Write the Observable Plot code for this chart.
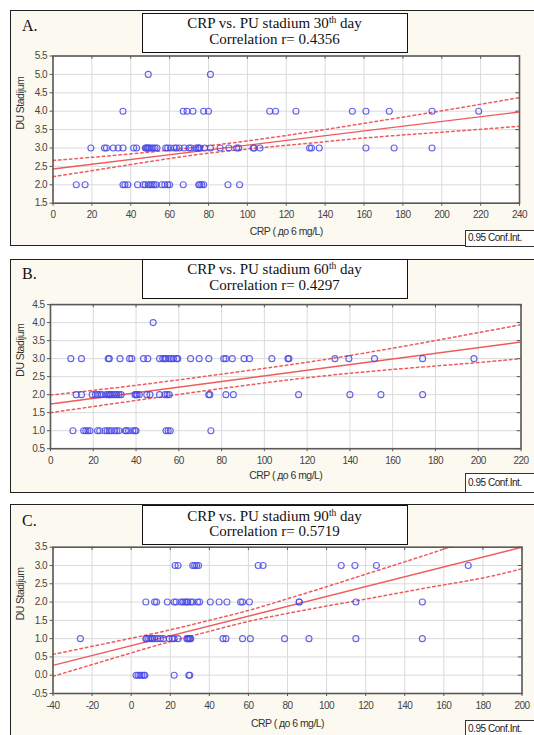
<!DOCTYPE html>
<html><head><meta charset="utf-8">
<script src="https://cdn.jsdelivr.net/npm/d3@7"></script>
<script src="https://cdn.jsdelivr.net/npm/@observablehq/plot@0.6"></script>
<style>
body{margin:0;background:#fff;}
#page{position:relative;width:534px;height:735px;overflow:hidden;background:#fff;}
.panel{position:absolute;left:9.5px;width:540px;border:1.5px solid #222;background:#fcfaf0;box-sizing:border-box;}
.letter{position:absolute;left:22px;font-family:"Liberation Serif","Times New Roman",serif;font-size:16px;line-height:16px;color:#111;}
.tbox{position:absolute;left:141.5px;width:266px;height:40px;border:1.5px solid #111;background:#fff;box-sizing:border-box;font-family:"Liberation Serif","Times New Roman",serif;font-size:15px;line-height:15.5px;text-align:center;color:#111;padding-top:2.8px;}
.tbox sup{font-size:9.5px;vertical-align:5px;line-height:0;}
.conf{position:absolute;left:465px;width:80px;border:1px solid #333;background:#fff;box-sizing:border-box;font-family:"Liberation Sans",Arial,sans-serif;font-size:10px;letter-spacing:-0.45px;color:#222;padding-left:2px;}
.chart{position:absolute;left:0;}
</style></head>
<body><div id="page"></div>
<script>
// ---------- DATA ----------
const xLabel = "CRP ( до 6 mg/L)";
const yLabel = "DU Stadijum";

// Panel A (30th day)
const A_titleDay = "30";
const A_r = "0.4356";
const A_xTicks = [0,20,40,60,80,100,120,140,160,180,200,220,240];
const A_yTicks = [1.5,2.0,2.5,3.0,3.5,4.0,4.5,5.0,5.5];
const A_stage2 = [12,16.5,36,37,38.5,43.5,46.5,47.5,49,50,51,52,53,56,57.5,59,60,67,75,75.5,76.5,77.5,90,96];
const A_stage3 = [19.5,26.5,27.5,31,33.5,36,41.5,43,47.5,48,48.5,49,49.5,50.5,51.5,52.5,53.5,58,59,60.5,62.5,63.5,65,67.5,70,71,73.5,74.5,75,75.5,78,81,86,90.5,94.5,95.5,103,103.5,106.5,132,133,137,161,175.5,195];
const A_stage4 = [36,67,69,72,77.5,80,111.5,114.5,125,154,161,173,195,219];
const A_stage5 = [49,81];
const A_regX = [0,240];
const A_regY = [2.43,3.98];
const A_ciX = [0,40,80,120,160,200,240];
const A_ciUpper = [2.66,2.84,3.06,3.34,3.67,4.01,4.37];
const A_ciLower = [2.22,2.55,2.86,3.07,3.27,3.43,3.59];

// Panel B (60th day)
const B_titleDay = "60";
const B_r = "0.4297";
const B_xTicks = [0,20,40,60,80,100,120,140,160,180,200,220];
const B_yTicks = [0.5,1.0,1.5,2.0,2.5,3.0,3.5,4.0,4.5];
const B_stage1 = [10.5,15.5,16.5,17.5,18.5,22,23,25.5,26.5,27.5,28.5,30,31,32,35,35.5,36.5,38.5,39.5,40,54,55,56,75];
const B_stage2 = [12,14.5,19.5,21,22,23,24,26,27,27.5,28,29,30,31,32,33,39.5,40,40.5,41.5,45,46.5,51,53.5,54.5,55.5,74,74.5,82,85.5,116,140,154.5,174];
const B_stage3 = [9.5,14.5,27,27.5,32.5,37,38,43.5,45.5,51,52.5,53.5,54,55.5,56.5,57.5,59,59.5,65.5,69.5,74,81,82,85,90.5,93,103.5,111,111.5,133,139.5,151.5,174,198];
const B_stage4 = [48];
const B_regX = [0,220];
const B_regY = [1.74,3.46];
const B_ciX = [0,40,80,120,160,200,220];
const B_ciUpper = [1.99,2.26,2.57,2.90,3.29,3.72,3.94];
const B_ciLower = [1.50,1.84,2.17,2.47,2.70,2.89,3.00];

// Panel C (90th day)
const C_titleDay = "90";
const C_r = "0.5719";
const C_xTicks = [-40,-20,0,20,40,60,80,100,120,140,160,180,200];
const C_yTicks = [-0.5,0.0,0.5,1.0,1.5,2.0,2.5,3.0,3.5];
const C_stage0 = [2.5,3.5,4.5,5.5,6.5,7,22,29.5,30];
const C_stage1 = [-26,7.5,8,9,10,11,12,13.5,15,16.5,19.5,21,22,24,28.5,29,29.5,30,30.5,47,48.5,57,61,78.5,91,115,149];
const C_stage2 = [7.5,12,13,18.5,22,23,25.5,26.5,27.5,28.5,29,30.5,31.5,34,35,40.5,45,49,56,57,60.5,86,86,115,149];
const C_stage3 = [22.5,24,31.5,32.5,33.5,34.5,65,67.5,107.5,114.5,125.5,172.5];
const C_regX = [-40,200];
const C_regY = [0.27,3.50];
const C_ciX = [-40,-20,0,20,40,60,80,100,120,140,160,180,200];
const C_ciUpper = [0.57,0.79,1.01,1.24,1.50,1.77,2.09,2.42,2.76,3.10,3.45,3.80,4.09];
const C_ciLower = [-0.03,0.29,0.61,0.92,1.20,1.47,1.69,1.89,2.08,2.28,2.47,2.66,2.91];

// ---------- LAYOUT ----------
const page = document.getElementById("page");
const axisFont = '"Liberation Sans",Arial,sans-serif';
const RED = "#f05a5a", BLUE = "#4848e8";

function el(cls, css, html) {
  const d = document.createElement("div");
  d.className = cls; Object.assign(d.style, css); if (html != null) d.innerHTML = html;
  page.appendChild(d); return d;
}

function panel(p) {
  el("panel", {top: p.top + "px", height: p.ph + "px"});
  const pts = p.rows.flatMap(([stage, xs]) => xs.map(x => ({x, y: stage})));
  const reg = p.regX.map((x, i) => ({x, y: p.regY[i]}));
  const up = p.ciX.map((x, i) => ({x, y: p.ciUp[i]}));
  const lo = p.ciX.map((x, i) => ({x, y: p.ciLo[i]}));
  const yTop = p.yTicks[p.yTicks.length - 1], yBot = p.yTicks[0];
  const xRight = p.xTicks[p.xTicks.length - 1];
  const ySpan = yTop - yBot, xSpan = xRight - p.xTicks[0];
  const chart = Plot.plot({
    width: 534, height: p.h,
    marginTop: p.mt, marginBottom: p.mb, marginLeft: p.ml, marginRight: p.mr,
    x: {domain: [p.xTicks[0], xRight]},
    y: {domain: [yBot, yTop]},
    style: {background: "transparent", fontFamily: axisFont, fontSize: "10px", letterSpacing: "-0.55px", color: "#444", overflow: "visible"},
    marks: [
      Plot.frame({fill: "white", stroke: null}),
      Plot.gridX(p.xTicks, {stroke: "#dadada", strokeOpacity: 1}),
      Plot.gridY(p.yTicks, {stroke: "#dadada", strokeOpacity: 1}),
      Plot.axisX(p.xTicks, {tickSize: 3, tickPadding: 5, tickFormat: d => String(d), label: null, stroke: "#555"}),
      Plot.axisY(p.yTicks, {tickSize: 3, tickPadding: 3, tickFormat: d => d.toFixed(1), label: null, stroke: "#555"}),
      Plot.ruleX(p.xTicks, {y1: yTop, y2: yTop - ySpan * 0.022, stroke: "#555"}),
      Plot.ruleY(p.yTicks, {x1: xRight, x2: xRight - xSpan * 0.008, stroke: "#555"}),
      Plot.line(up, {x: "x", y: "y", stroke: RED, strokeWidth: 1.5, strokeDasharray: "2.5,3", curve: "natural", clip: true}),
      Plot.line(lo, {x: "x", y: "y", stroke: RED, strokeWidth: 1.5, strokeDasharray: "2.5,3", curve: "natural", clip: true}),
      Plot.line(reg, {x: "x", y: "y", stroke: RED, strokeWidth: 1.4, clip: true}),
      Plot.dot(pts, {x: "x", y: "y", r: 3, stroke: BLUE, strokeWidth: 1.1, strokeOpacity: 0.85, fill: "none"}),
      Plot.frame({stroke: "#5a5a5a", strokeWidth: 1.6}),
      Plot.text([xLabel], {text: d => d, frameAnchor: "bottom", dy: p.xlOff, fontSize: 10.5, fill: "#333"}),
      Plot.text([yLabel], {text: d => d, frameAnchor: "left", dx: -p.ylOff, rotate: -90, fontSize: 10.5, fill: "#333"})
    ]
  });
  chart.classList.add("chart");
  chart.style.top = p.top + "px";
  page.appendChild(chart);
  el("letter", {top: p.letterTop + "px"}, p.letter);
  el("tbox", {top: p.boxTop + "px"},
    `<div>CRP vs. PU stadium ${p.day}<sup>th</sup> day</div><div>Correlation r= ${p.r}</div>`);
  el("conf", {top: p.confTop + "px", height: p.confH + "px", lineHeight: (p.confH - 2) + "px"}, "0.95 Conf.Int.");
}

panel({letter: "A.", day: A_titleDay, r: A_r, top: 10, ph: 236, h: 236, mt: 45.5, mb: 43.3, ml: 52.5, mr: 15,
  xTicks: A_xTicks, yTicks: A_yTicks,
  rows: [[2, A_stage2], [3, A_stage3], [4, A_stage4], [5, A_stage5]],
  regX: A_regX, regY: A_regY, ciX: A_ciX, ciUp: A_ciUpper, ciLo: A_ciLower,
  xlOff: 32, ylOff: 32, letterTop: 17.6, boxTop: 12.5, confTop: 230, confH: 16.5});

panel({letter: "B.", day: B_titleDay, r: B_r, top: 258.5, ph: 234.5, h: 234.5, mt: 45.1, mb: 45.3, ml: 50, mr: 13.5,
  xTicks: B_xTicks, yTicks: B_yTicks,
  rows: [[1, B_stage1], [2, B_stage2], [3, B_stage3], [4, B_stage4]],
  regX: B_regX, regY: B_regY, ciX: B_ciX, ciUp: B_ciUpper, ciLo: B_ciLower,
  xlOff: 30.5, ylOff: 30, letterTop: 266, boxTop: 258.5, confTop: 473.3, confH: 20});

panel({letter: "C.", day: C_titleDay, r: C_r, top: 504, ph: 260, h: 231, mt: 42.7, mb: 42, ml: 52.5, mr: 12.5,
  xTicks: C_xTicks, yTicks: C_yTicks,
  rows: [[0, C_stage0], [1, C_stage1], [2, C_stage2], [3, C_stage3]],
  regX: C_regX, regY: C_regY, ciX: C_ciX, ciUp: C_ciUpper, ciLo: C_ciLower,
  xlOff: 33, ylOff: 32.5, letterTop: 512.6, boxTop: 505, confTop: 719.5, confH: 18});
</script>
</body></html>
